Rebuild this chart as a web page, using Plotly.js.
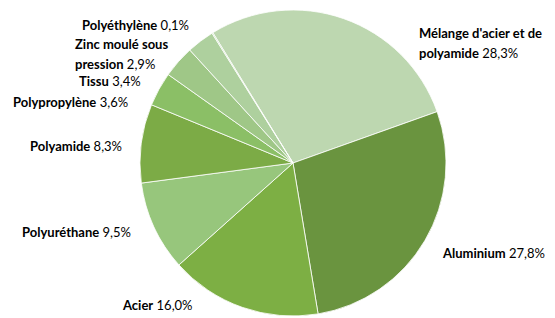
<!DOCTYPE html>
<html>
<head>
<meta charset="utf-8">
<script src="https://cdn.plot.ly/plotly-3.0.1.min.js"></script>
<style>html,body{margin:0;padding:0;background:#fff;}#chart{width:555px;height:318px;}</style>
</head>
<body>
<div id="chart"></div>
<script>
const labels = ["Mélange d'acier et de polyamide", "Aluminium", "Acier", "Polyuréthane", "Polyamide", "Polypropylène", "Tissu", "Zinc moulé sous pression", "Polyéthylène"];
const values = [28.3, 27.8, 16.0, 9.5, 8.3, 3.6, 3.4, 2.9, 0.1];
const colors = ["#BDD7B0", "#6A943F", "#7DAF44", "#97C67C", "#7CAB46", "#8BBF66", "#9FC787", "#AED09E", "#B8D6A9"];
// displayed label lines: bold part of each line (value appended to last line)
const labelLines = [["Mélange d'acier et de", "polyamide"], ["Aluminium"], ["Acier"], ["Polyuréthane"], ["Polyamide"], ["Polypropylène"], ["Tissu"], ["Zinc moulé sous", "pression"], ["Polyéthylène"]];

// label placement (pixels): anchor x, first line y, x anchor side
const labelPos = [
  {x: 417, y: 33, a: 'left'},
  {x: 440, y: 253, a: 'left'},
  {x: 120, y: 305, a: 'left'},
  {x: 20, y: 232, a: 'left'},
  {x: 28, y: 146, a: 'left'},
  {x: 11, y: 102, a: 'left'},
  {x: 77, y: 81, a: 'left'},
  {x: 73, y: 44, a: 'left'},
  {x: 191, y: 25, a: 'right'}
];
const W = 555, H = 318, lineGap = 20;
const fmt = v => v.toFixed(1).replace('.', ',') + '%';

const annotations = [];
labels.forEach((l, i) => {
  const lines = labelLines[i];
  lines.forEach((ln, j) => {
    let t = '<b>' + ln + '</b>';
    if (j === lines.length - 1) t += ' ' + fmt(values[i]);
    annotations.push({
      xref: 'paper', yref: 'paper',
      x: labelPos[i].x / W, y: 1 - (labelPos[i].y + j * lineGap) / H,
      xanchor: labelPos[i].a, yanchor: 'middle',
      text: t, showarrow: false,
      font: {family: 'Lato, Calibri, sans-serif', size: 13, color: '#000'}
    });
  });
});

const data = [{
  type: 'pie',
  labels: labels,
  values: values,
  sort: false,
  direction: 'clockwise',
  rotation: -31.6,
  marker: {colors: colors, line: {color: '#ffffff', width: 0.8}},
  textinfo: 'none',
  hoverinfo: 'label+percent',
  domain: {x: [140 / W, 446 / W], y: [2 / H, 308 / H + 0]}
}];
data[0].domain.y = [(H - 316) / H, (H - 10) / H];

const layout = {
  width: W, height: H,
  margin: {l: 0, r: 0, t: 0, b: 0},
  showlegend: false,
  paper_bgcolor: '#fff',
  annotations: annotations
};
Plotly.newPlot('chart', data, layout, {displayModeBar: false, staticPlot: true});
</script>
</body>
</html>
